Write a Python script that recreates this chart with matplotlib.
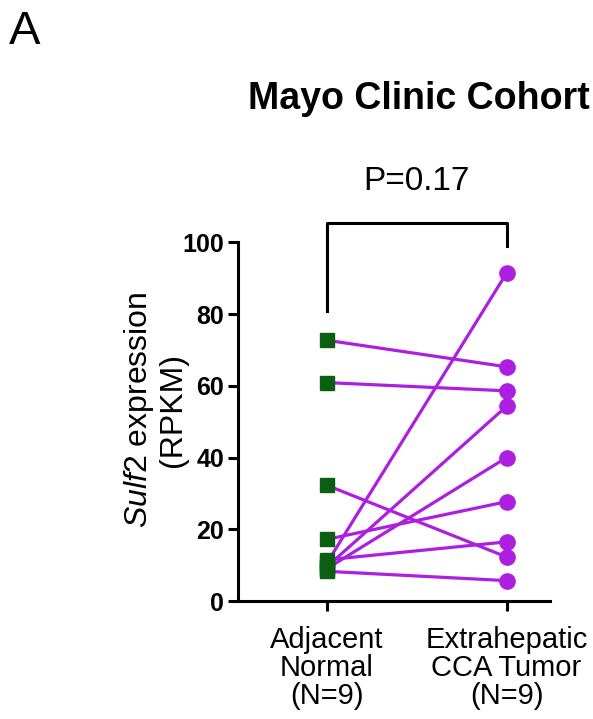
import matplotlib
matplotlib.use("Agg")
from matplotlib import pyplot as plt

plt.rcParams['font.family'] = ['Liberation Sans', 'DejaVu Sans']
plt.rcParams['mathtext.fontset'] = 'custom'
plt.rcParams['mathtext.rm'] = 'Liberation Sans'
plt.rcParams['mathtext.it'] = 'Liberation Sans:italic'

# values
groups = ['Adjacent\nNormal\n(N=9)', 'Extrahepatic\nCCA Tumor\n(N=9)']
normal = [72.7, 60.9, 32.3, 17.2, 11.5, 10.5, 9.5, 9.0, 8.3]
tumor = [65.3, 58.6, 12.3, 27.7, 16.5, 91.4, 54.3, 40.0, 5.7]
y_ticks = [0, 20, 40, 60, 80, 100]
p_text = 'P=0.17'

green = '#0b5e12'
purple = '#ad1fe0'

fig = plt.figure(figsize=(5.93, 7.19), dpi=100)
ax = fig.add_axes([0.401, 0.164, 0.526, 0.499])

xs = [0, 1]
for a, b in zip(normal, tumor):
    ax.plot(xs, [a, b], color=purple, lw=2.3, zorder=2)
ax.plot([0] * len(normal), normal, ls='none', marker='s', ms=10.5,
        color=green, zorder=3)
ax.plot([1] * len(tumor), tumor, ls='none', marker='o', ms=11,
        color=purple, zorder=3)

ax.set_xlim(-0.494, 1.24)
ax.set_ylim(0, 100)
ax.set_xticks(xs)
ax.set_xticklabels(groups, fontsize=21, linespacing=1.0)
ax.set_yticks(y_ticks)
ax.set_yticklabels([str(t) for t in y_ticks], fontsize=18, fontweight='bold')
ax.tick_params(axis='both', width=2.2, length=7, direction='out', pad=3)
ax.tick_params(axis='x', pad=11)

for side in ['top', 'right']:
    ax.spines[side].set_visible(False)
for side in ['left', 'bottom']:
    ax.spines[side].set_linewidth(2.2)

fig.text(155 / 593, 1 - 410 / 719, '$\\mathit{Sulf2}$ expression\n(RPKM)',
         rotation=90, ha='center', va='center', fontsize=23, linespacing=1.05)

# significance bracket
ax.plot([0, 0, 1, 1], [80.8, 105.3, 105.3, 99.0], color='black', lw=2.2,
        clip_on=False)
ax.text(0.5, 117, p_text, ha='center', va='center', fontsize=24)

fig.text(0.707, 0.863, 'Mayo Clinic Cohort', ha='center', va='center',
         fontsize=27, fontweight='bold')
fig.text(0.015, 0.955, 'A', ha='left', va='center', fontsize=34)

fig.savefig('out.png', dpi=100)
